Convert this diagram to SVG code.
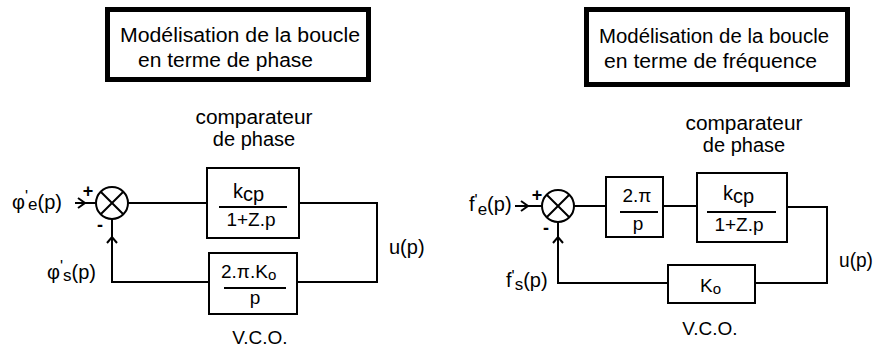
<svg xmlns="http://www.w3.org/2000/svg" width="874" height="349" viewBox="0 0 874 349">
<style>
text{font-family:"Liberation Sans",Arial,sans-serif;fill:#000;font-size:20px}
.ln{fill:none;stroke:#000;stroke-width:2}
.box{fill:#fff;stroke:#000;stroke-width:2}
.tbox{fill:#fff;stroke:#000;stroke-width:5}
.m{text-anchor:middle}
.s{font-size:19px}
.sg{font-size:18px;font-weight:bold}
</style>
<rect width="874" height="349" fill="#fff"/>

<!-- Left diagram -->
<g id="title-phase">
<rect class="tbox" x="107.5" y="9.5" width="261" height="70"/>
<text x="120" y="42" textLength="240" lengthAdjust="spacingAndGlyphs">Modélisation de la boucle</text>
<text x="138" y="67" textLength="175" lengthAdjust="spacingAndGlyphs">en terme de phase</text>
</g>

<g id="connectors-phase">
<path class="ln" d="M75 203H96"/>
<polyline class="ln" points="78,198 85,203 78,208"/>
<path class="ln" d="M128 203H207"/>
<polyline class="ln" points="299,203 377,203 377,282 297,282"/>
<polyline class="ln" points="209,282 112,282 112,219"/>
<polyline class="ln" points="107,243 112,237 117,243"/>
</g>

<g id="sum-phase">
<circle class="box" cx="112" cy="203" r="16"/>
<path class="ln" d="M100.7 191.7L123.3 214.3M123.3 191.7L100.7 214.3"/>
<text x="88" y="197" class="m sg">+</text>
<text x="100" y="231" class="m sg">-</text>
</g>

<g id="in-phase">
<text x="12" y="209">φ<tspan dy="-7" font-size="16">'</tspan><tspan dy="8" font-size="17">e</tspan><tspan dy="-1">(p)</tspan></text>
</g>
<g id="out-phase">
<text x="47" y="279">φ<tspan dy="-7" font-size="16">'</tspan><tspan dy="9" font-size="17">s</tspan><tspan dy="-2">(p)</tspan></text>
</g>

<g id="comparateur-phase">
<text x="254" y="124" class="m" textLength="117" lengthAdjust="spacingAndGlyphs">comparateur</text>
<text x="254" y="146" class="m">de phase</text>
<rect class="box" x="207" y="168" width="92" height="70"/>
<text x="233" y="198">k<tspan dy="3">cp</tspan></text>
<path class="ln" d="M219 207H287"/>
<text x="251" y="226" class="m s">1+Z.p</text>
</g>

<g id="vco-phase">
<rect class="box" x="209" y="253" width="88" height="61"/>
<text x="221" y="278" class="s">2.π.K<tspan dy="2" font-size="15">o</tspan></text>
<path class="ln" d="M224 288H286"/>
<text x="255" y="304" class="m s">p</text>
<text x="260" y="344" class="m s">V.C.O.</text>
</g>

<g id="u-phase">
<text x="389" y="254">u(p)</text>
</g>

<!-- Right diagram -->
<g id="title-freq">
<rect class="tbox" x="586.5" y="9.5" width="261" height="75"/>
<text x="599" y="43" textLength="230" lengthAdjust="spacingAndGlyphs">Modélisation de la boucle</text>
<text x="604" y="68" textLength="213" lengthAdjust="spacingAndGlyphs">en terme de fréquence</text>
</g>

<g id="connectors-freq">
<path class="ln" d="M515 206H542"/>
<polyline class="ln" points="521,201 528,206 521,211"/>
<path class="ln" d="M574 206H606"/>
<path class="ln" d="M663 206H697"/>
<polyline class="ln" points="787,207 827,207 827,283 755,283"/>
<polyline class="ln" points="668,283 558,283 558,222"/>
<polyline class="ln" points="553,243 558,237 563,243"/>
</g>

<g id="sum-freq">
<circle class="box" cx="558" cy="206" r="16"/>
<path class="ln" d="M546.7 194.7L569.3 217.3M569.3 194.7L546.7 217.3"/>
<text x="537" y="201" class="m sg">+</text>
<text x="546" y="234" class="m sg">-</text>
</g>

<g id="in-freq">
<text x="469" y="211">f<tspan dy="-5" font-size="16">'</tspan><tspan dy="9" font-size="17">e</tspan><tspan dy="-4">(p)</tspan></text>
</g>
<g id="out-freq">
<text x="506" y="287">f<tspan dy="-5" font-size="16">'</tspan><tspan dy="8" font-size="17">s</tspan><tspan dy="-3">(p)</tspan></text>
</g>

<g id="gain-2pi">
<rect class="box" x="606" y="177" width="57" height="60"/>
<text x="637" y="202" class="m s">2.π</text>
<path class="ln" d="M620 212H658"/>
<text x="638" y="230" class="m s">p</text>
</g>

<g id="comparateur-freq">
<text x="744" y="130" class="m" textLength="117" lengthAdjust="spacingAndGlyphs">comparateur</text>
<text x="744" y="152" class="m">de phase</text>
<rect class="box" x="697" y="173" width="90" height="69"/>
<text x="723" y="200">k<tspan dy="3">cp</tspan></text>
<path class="ln" d="M707 212H776"/>
<text x="739" y="231" class="m s">1+Z.p</text>
</g>

<g id="vco-freq">
<rect class="box" x="668" y="265" width="87" height="38"/>
<text x="700" y="292" class="s">K<tspan dy="2" font-size="15">o</tspan></text>
<text x="710" y="335" class="m s">V.C.O.</text>
</g>

<g id="u-freq">
<text x="839" y="267" textLength="34" lengthAdjust="spacingAndGlyphs">u(p)</text>
</g>
</svg>
